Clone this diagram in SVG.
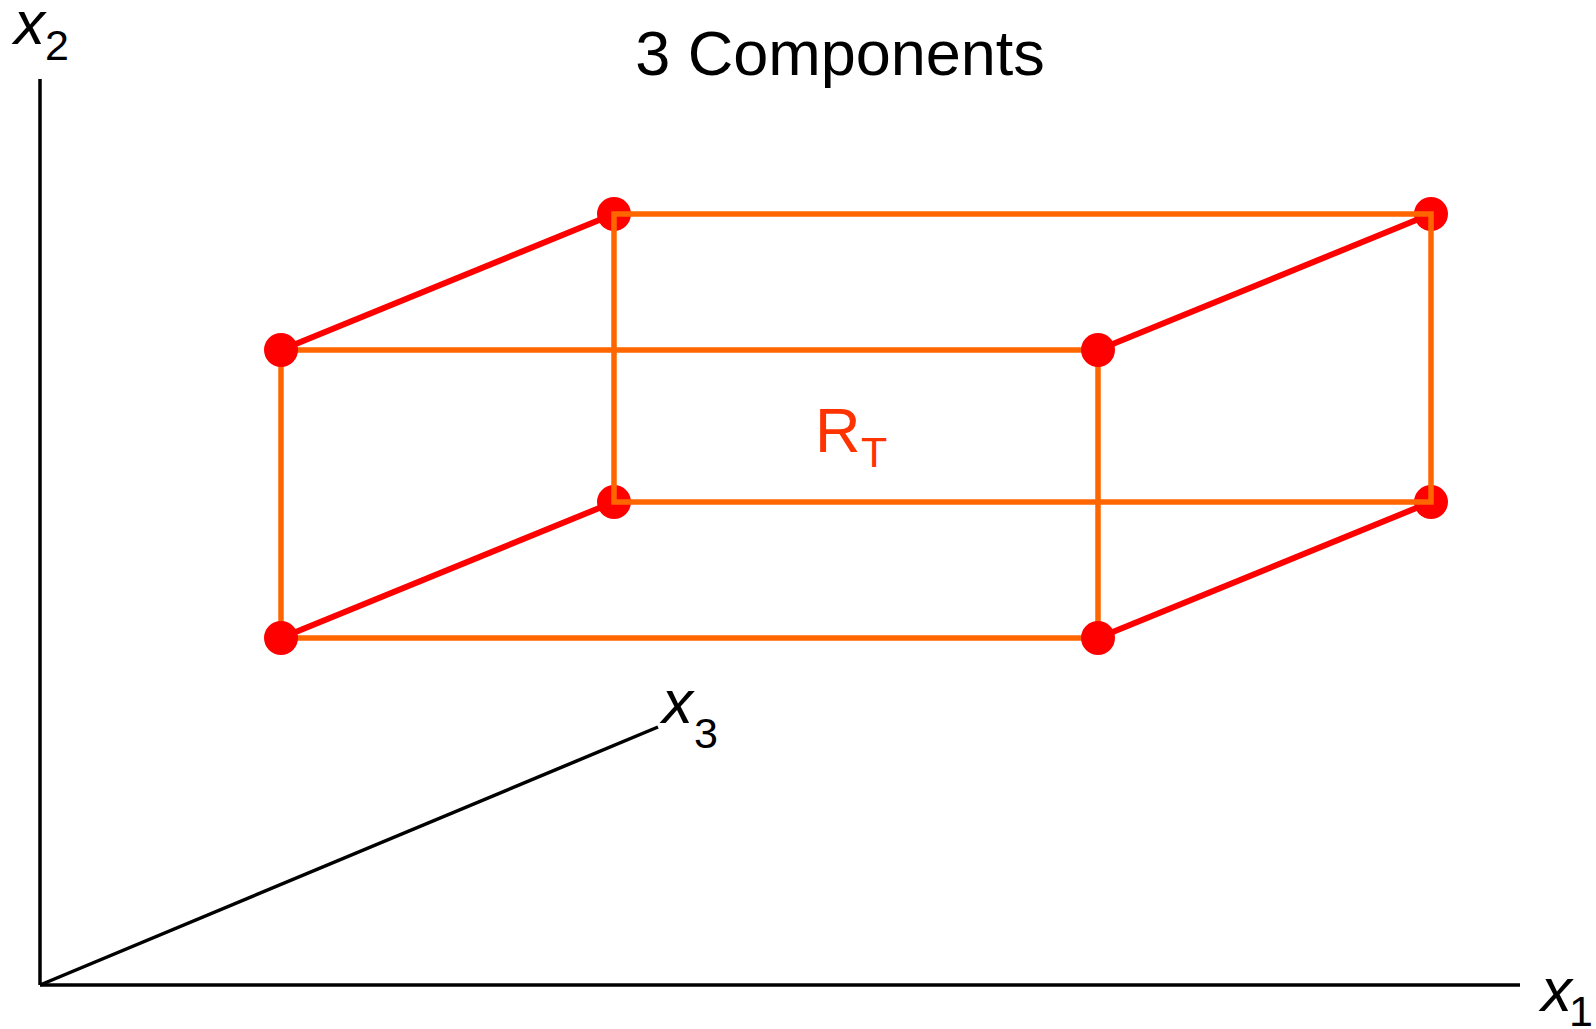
<svg xmlns="http://www.w3.org/2000/svg" width="1596" height="1029" viewBox="0 0 1596 1029">
<style>
.axis{stroke:#000;stroke-width:3.5;fill:none}
.edge{stroke:#FF0000;stroke-width:6;fill:none}
.box{stroke:#FF6600;stroke-width:5.5;fill:none}
.pt{fill:#FF0000}
.lbl{font-family:"Liberation Sans",Arial,sans-serif;fill:#000}
.it{font-style:italic;font-size:62px}
.sub{font-size:43px}
</style>
<rect width="1596" height="1029" fill="#fff"/>
<g id="axes">
<line class="axis" x1="40" y1="79" x2="40" y2="985"/>
<line class="axis" x1="40" y1="985" x2="1520" y2="985"/>
<line class="axis" x1="40" y1="985" x2="658" y2="727"/>
</g>
<g id="connectors">
<line class="edge" x1="281" y1="350" x2="614" y2="214"/>
<line class="edge" x1="1098" y1="350" x2="1431" y2="214"/>
<line class="edge" x1="281" y1="638" x2="614" y2="502"/>
<line class="edge" x1="1098" y1="638" x2="1431" y2="502"/>
</g>
<g id="back-points">
<circle class="pt" cx="614" cy="214" r="17"/>
<circle class="pt" cx="1431" cy="214" r="17"/>
<circle class="pt" cx="614" cy="502" r="17"/>
<circle class="pt" cx="1431" cy="502" r="17"/>
</g>
<g id="back-face">
<rect class="box" x="614" y="214" width="817" height="288"/>
</g>
<g id="front-face">
<rect class="box" x="281" y="350" width="817" height="288"/>
</g>
<g id="front-points">
<circle class="pt" cx="281" cy="350" r="17"/>
<circle class="pt" cx="1098" cy="350" r="17"/>
<circle class="pt" cx="281" cy="638" r="17"/>
<circle class="pt" cx="1098" cy="638" r="17"/>
</g>
<g id="labels">
<text class="lbl" x="840" y="75" font-size="63" text-anchor="middle">3 Components</text>
<text class="lbl it" x="14" y="44">x</text>
<text class="lbl sub" x="45" y="60">2</text>
<text class="lbl it" x="662" y="723">x</text>
<text class="lbl sub" x="694" y="748">3</text>
<text class="lbl it" x="1541" y="1011">x</text>
<text class="lbl sub" x="1569" y="1026">1</text>
<text class="lbl" x="815" y="452" font-size="63" style="fill:#FF3300">R</text>
<text class="lbl sub" x="861" y="467" style="fill:#FF3300">T</text>
</g>
</svg>
